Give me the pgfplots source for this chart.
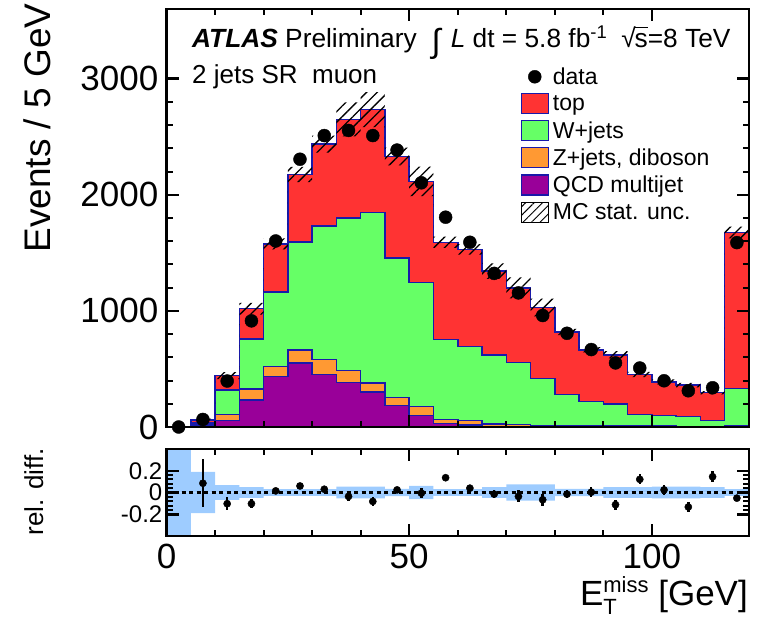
\documentclass[border=0pt]{standalone}
\usepackage{pgfplots}
\pgfplotsset{compat=1.18}
\usepackage{pgfplotstable}
\usepgfplotslibrary{fillbetween}
\usetikzlibrary{patterns.meta}
\usepackage{fontspec}
\setmainfont{Liberation Sans}

\definecolor{topred}{RGB}{255,51,51}
\definecolor{wgreen}{RGB}{102,255,102}
\definecolor{zorange}{RGB}{255,153,51}
\definecolor{qcdpurple}{RGB}{153,0,153}
\definecolor{outl}{RGB}{25,25,170}
\definecolor{bandblue}{RGB}{158,204,255}

\newcommand{\fs}[1]{\fontsize{#1}{#1}\selectfont}

% stacked (cumulative) histogram, bin left edges; u = relative MC stat. unc.
\pgfplotstableread{
x    qcd  zj   wj    top   u
0    0.5  1    2     3     0.5
5    8    16   36    60    0.19
10   58   108  320   442   0.067
15   233  326  757   1019  0.05
20   437  521  1162  1578  0.03
25   550  661  1592  2175  0.03
30   451  582  1729  2437  0.03
35   384  486  1802  2649  0.055
40   303  378  1846  2734  0.055
45   186  252  1455  2329  0.033
50   98   177  1244  2116  0.06
55   30   66   753   1591  0.03
60   16   54   694   1530  0.03
65   6    25   622   1343  0.05
70   5    20   557   1198  0.075
75   4    15   418   1029  0.075
80   3    12   278   819   0.033
85   3    10   220   665   0.033
90   2    9    199   622   0.05
95   2    8    106   453   0.05
100  2    7    98    389   0.055
105  1    6    89    360   0.055
110  1    5    54    295   0.05
115  3    12   330   1675  0.03
120  3    12   330   1675  0.03
}\hist

\pgfplotstableread{
xc     n
2.5    0
7.5    65
12.5   396
17.5   914
22.5   1602
27.5   2306
32.5   2510
37.5   2554
42.5   2510
47.5   2385
52.5   2103
57.5   1807
62.5   1591
67.5   1323
72.5   1155
77.5   960
82.5   807
87.5   667
92.5   552
97.5   508
102.5  398
107.5  312
112.5  338
117.5  1588
}\dat

\pgfplotstableread{
xc     r       re
7.5    0.085   0.22
12.5   -0.103  0.06
17.5   -0.103  0.04
22.5   0.015   0.03
27.5   0.06    0.025
32.5   0.03    0.025
37.5   -0.036  0.045
42.5   -0.082  0.045
47.5   0.024   0.03
52.5   -0.006  0.045
57.5   0.136   0.025
62.5   0.04    0.03
67.5   -0.015  0.035
72.5   -0.036  0.055
77.5   -0.067  0.055
82.5   -0.015  0.035
87.5   0.003   0.045
92.5   -0.112  0.045
97.5   0.121   0.045
102.5  0.024   0.045
107.5  -0.133  0.05
112.5  0.145   0.05
117.5  -0.052  0.03
}\rat

\pgfplotsset{
  atlasframe/.style={
    scale only axis, width=582.5pt,
    xmin=0, xmax=120,
    tick align=inside,
    xtick pos=both, ytick pos=both,
    major tick length=12pt, minor tick length=6pt,
    tick style={black, line width=2.5pt},
    minor tick style={black, line width=2pt},
    axis line style={line width=2.5pt},
    axis on top,
    clip mode=individual,
    /pgf/number format/assume math mode=true,
  }
}

\begin{document}
\begin{tikzpicture}

% ---------------- main panel ----------------
\begin{axis}[
  atlasframe,
  at={(166.5pt,191pt)}, anchor=south west, height=418pt,
  ymin=0, ymax=3600,
  xtick={0,50,100}, xticklabel=\empty, minor x tick num=4,
  ytick={0,1000,2000,3000}, yticklabels={0,1000,2000,3000}, minor y tick num=4,
  yticklabel style={font=\fs{35}, inner sep=0pt, xshift=-8pt},
  legend style={draw=none, fill=none, at={(axis description cs:0.608,0.862)}, anchor=north west,
    font=\fs{23}, inner sep=0pt, outer sep=0pt, row sep=6pt, column sep=3pt,
    nodes={inner sep=1pt}},
  legend cell align=left,
  legend image code/.code={\draw[#1] (0pt,-10pt) rectangle (27pt,10pt);},
]
\addplot[on layer=pre main, const plot, fill=topred, draw=outl, line width=1.5pt, forget plot] table[x=x,y=top]{\hist} \closedcycle;
\addplot[on layer=pre main, const plot, fill=wgreen, draw=outl, line width=1.5pt, forget plot] table[x=x,y=wj]{\hist} \closedcycle;
\addplot[on layer=pre main, const plot, fill=zorange, draw=outl, line width=1.5pt, forget plot] table[x=x,y=zj]{\hist} \closedcycle;
\addplot[on layer=pre main, const plot, fill=qcdpurple, draw=outl, line width=1.5pt, forget plot] table[x=x,y=qcd]{\hist} \closedcycle;
\addplot[const plot, draw=none, name path=hi, forget plot] table[x=x, y expr=\thisrow{top}*(1+\thisrow{u})]{\hist};
\addplot[const plot, draw=none, name path=lo, forget plot] table[x=x, y expr=\thisrow{top}*(1-\thisrow{u})]{\hist};
\addplot[pattern={Lines[angle=45,distance=7.5pt,line width=1.3pt]}, pattern color=black, draw=none, forget plot] fill between[of=hi and lo];
\addplot[only marks, mark=*, mark size=6.5pt, black, forget plot] table[x=xc,y=n]{\dat};

\addlegendimage{legend image code/.code={\fill[black] (13.5pt,0pt) circle (6.5pt);}}
\addlegendentry{data}
\addlegendimage{fill=topred, draw=outl, line width=1.2pt}
\addlegendentry{top}
\addlegendimage{fill=wgreen, draw=outl, line width=1.2pt}
\addlegendentry{W+jets}
\addlegendimage{fill=zorange, draw=outl, line width=1.2pt}
\addlegendentry{Z+jets, diboson}
\addlegendimage{fill=qcdpurple, draw=outl, line width=1.2pt}
\addlegendentry{QCD multijet}
\addlegendimage{pattern={Lines[angle=45,distance=6pt,line width=1pt]}, draw=black, line width=1.2pt}
\addlegendentry{MC stat. unc.}
\end{axis}

% ---------------- ratio panel ----------------
\begin{axis}[
  atlasframe,
  at={(166.5pt,82pt)}, anchor=south west, height=87pt,
  ymin=-0.4, ymax=0.4,
  xtick={0,50,100}, xticklabels={0,50,100}, minor x tick num=4,
  ytick={-0.2,0,0.2}, yticklabels={-0.2,0,0.2}, minor y tick num=4,
  major tick length=12pt, minor tick length=6pt,
  xticklabel style={font=\fs{35}, inner sep=0pt, yshift=-8pt},
  yticklabel style={font=\fs{24}, inner sep=0pt, xshift=-4pt},
]
\addplot[const plot, fill=bandblue, draw=none] table[x=x,y=u]{\hist} \closedcycle;
\addplot[const plot, fill=bandblue, draw=none] table[x=x,y expr=-\thisrow{u}]{\hist} \closedcycle;
\addplot[black, line width=3pt, dash pattern=on 4pt off 3.5pt] coordinates {(0,0) (120,0)};
\addplot[only marks, mark=*, mark size=3.6pt, black,
  error bars/.cd, y dir=both, y explicit, error mark=none,
  error bar style={line width=2.5pt}] table[x=xc, y=r, y error=re]{\rat};
\end{axis}

% ---------------- texts ----------------
\node[anchor=base west, inner sep=0pt, font=\fs{26.3}] at (192pt,570.7pt)
  {{\bfseries\itshape ATLAS} Preliminary\hspace{15pt}\raisebox{-5pt}{\fs{33}∫}\hspace{10pt}\textit{L} dt = 5.8 fb\textsuperscript{-1}\hspace{14pt}√\kern-1pt\rlap{\rule[19.5pt]{13pt}{1.2pt}}s=8 TeV};
\node[anchor=base west, inner sep=0pt, font=\fs{26}] at (192pt,534pt) {2 jets SR\ \ muon};
\node[rotate=90, anchor=base east, inner sep=0pt, font=\fs{37}] at (50pt,614.5pt) {Events / 5 GeV};
\node[rotate=90, anchor=base east, inner sep=0pt, font=\fs{26}] at (43pt,170pt) {rel. diff.};
\node[anchor=base east, inner sep=0pt, font=\fs{35}] at (748pt,13pt)
  {E\makebox[0pt][l]{\raisebox{-9pt}{\fs{22}T}}\raisebox{13pt}{\fs{22}miss}\ [GeV]};

\pgfresetboundingbox
\useasboundingbox (0,0) rectangle (759pt,618pt);
\end{tikzpicture}
\end{document}
